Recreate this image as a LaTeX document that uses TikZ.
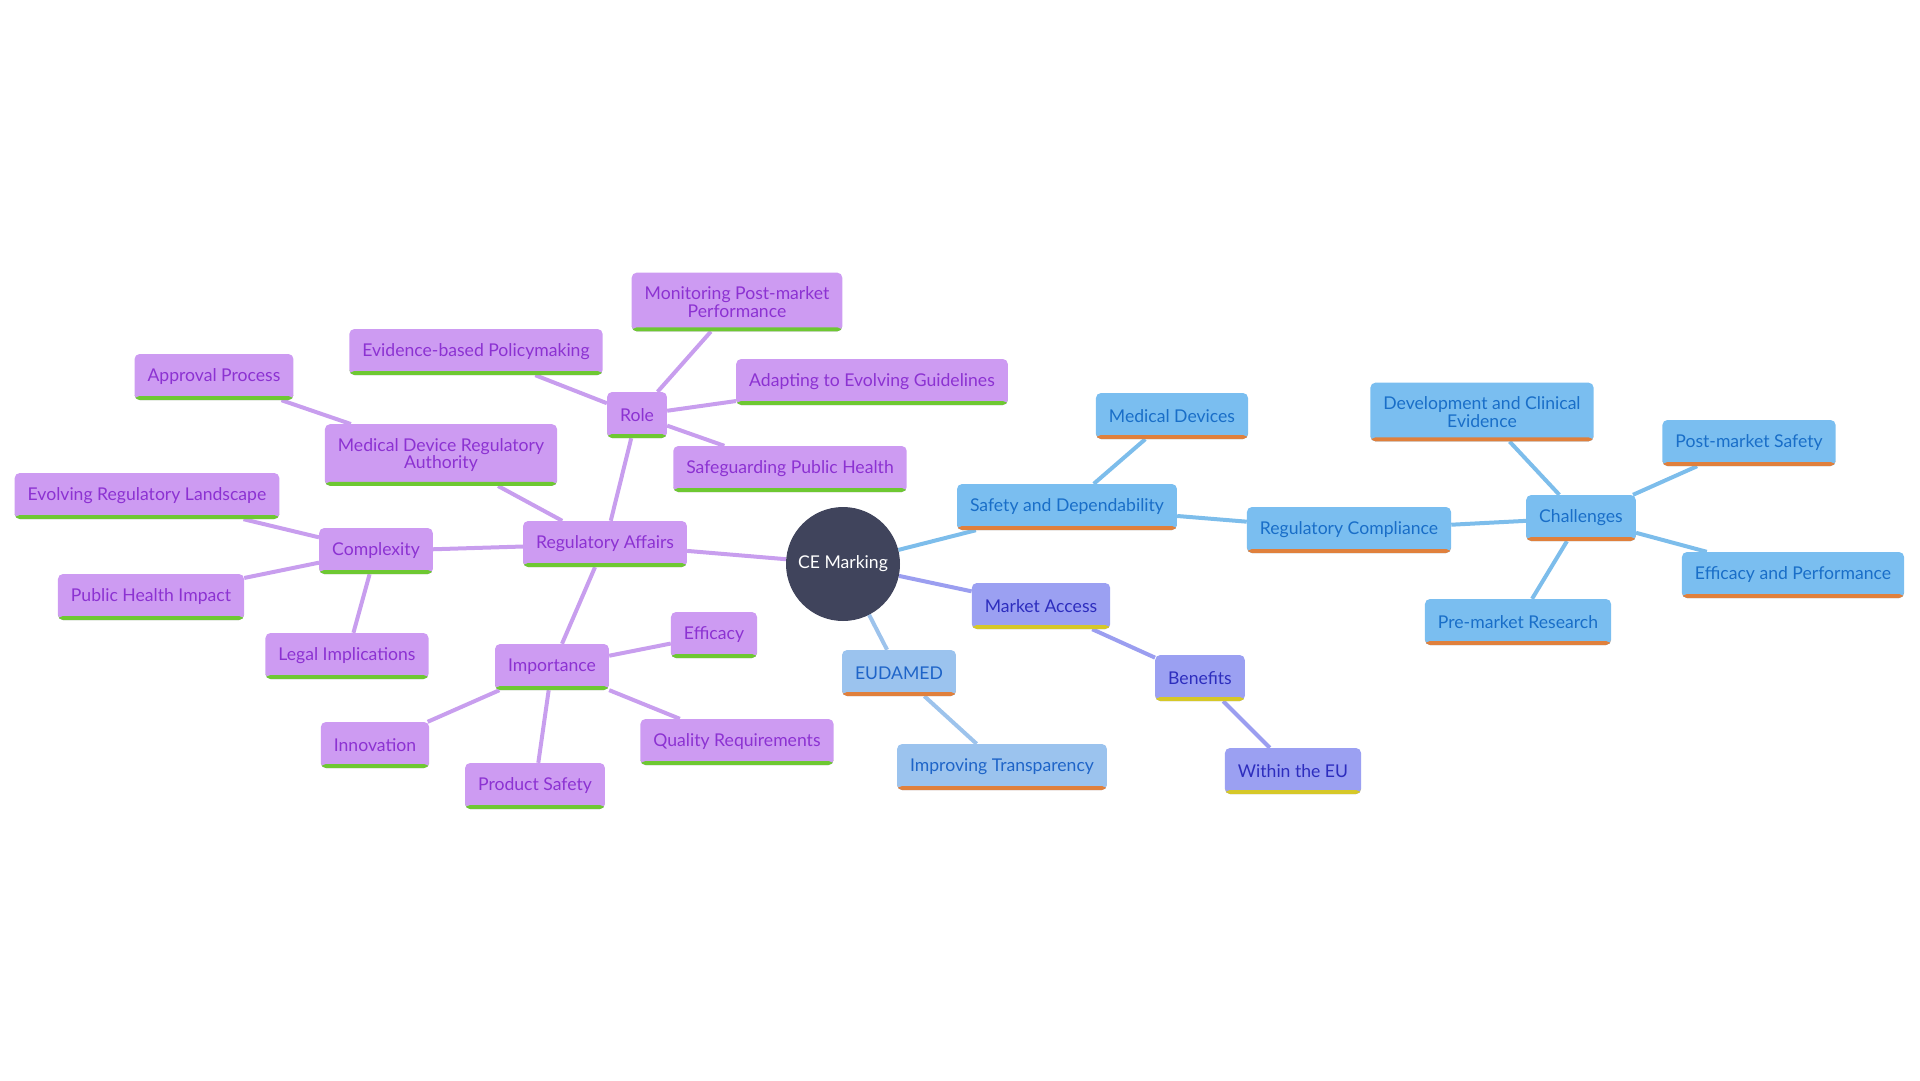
\documentclass[tikz,border=0pt]{standalone}
\usepackage{fontspec}
\setmainfont{Lato}
\usepackage{tikz}
\usetikzlibrary{backgrounds}

\definecolor{purplefill}{RGB}{205,155,242}
\definecolor{purpletext}{RGB}{140,50,210}
\definecolor{purpleline}{RGB}{200,158,238}
\definecolor{greenbar}{RGB}{110,200,50}
\definecolor{bluefill}{RGB}{122,190,240}
\definecolor{bluetext}{RGB}{25,110,200}
\definecolor{blueline}{RGB}{125,189,235}
\definecolor{orangebar}{RGB}{224,128,60}
\definecolor{eudfill}{RGB}{155,195,238}
\definecolor{eudtext}{RGB}{30,100,200}
\definecolor{eudline}{RGB}{157,195,236}
\definecolor{mafill}{RGB}{155,160,242}
\definecolor{matext}{RGB}{45,45,190}
\definecolor{maline}{RGB}{155,158,240}
\definecolor{yellowbar}{RGB}{214,200,40}
\definecolor{cefill}{RGB}{64,68,92}

\tikzset{
	mmbox/.style={rectangle, rounded corners=5pt, inner xsep=13pt, inner ysep=14pt,
		minimum height=46pt, align=center, font=\fontsize{17.6}{17.6}\selectfont,
		path picture={\fill[#1] (path picture bounding box.south west) rectangle ([yshift=4pt]path picture bounding box.south east);}},
	purplebox/.style={mmbox=greenbar, fill=purplefill, text=purpletext},
	bluebox/.style={mmbox=orangebar, fill=bluefill, text=bluetext},
	eudbox/.style={mmbox=orangebar, fill=eudfill, text=eudtext},
	mabox/.style={mmbox=yellowbar, fill=mafill, text=matext},
	link/.style={line width=4pt}
}

\begin{document}
\begin{tikzpicture}[x=1pt, y=-1pt]
	\useasboundingbox (0,0) rectangle (1920,1080);
	
	\node[circle, fill=cefill, text=white, minimum size=114pt, inner sep=0pt, font=\fontsize{17.6}{17.6}\selectfont] (ce) at (843,564) {CE Marking};
	
	% regulatory affairs branch
	\node[purplebox] (ra) at (605,544) {Regulatory Affairs};
	\node[purplebox] (role) at (637,415) {Role};
	\node[purplebox] (mon) at (737,302) {Monitoring Post-market\\Performance};
	\node[purplebox] (evid) at (476,352) {Evidence-based Policymaking};
	\node[purplebox] (adapt) at (872,382) {Adapting to Evolving Guidelines};
	\node[purplebox] (safe) at (790,469) {Safeguarding Public Health};
	\node[purplebox] (mdra) at (441,455) {Medical Device Regulatory\\Authority};
	\node[purplebox] (appr) at (214,377) {Approval Process};
	\node[purplebox] (cplx) at (376,551) {Complexity};
	\node[purplebox] (evol) at (147,496) {Evolving Regulatory Landscape};
	\node[purplebox] (phi) at (151,597) {Public Health Impact};
	\node[purplebox] (legal) at (347,656) {Legal Implications};
	\node[purplebox] (imp) at (552,667) {Importance};
	\node[purplebox] (effic) at (714,635) {Efficacy};
	\node[purplebox] (qual) at (737,742) {Quality Requirements};
	\node[purplebox] (innov) at (375,745) {Innovation};
	\node[purplebox] (prod) at (535,786) {Product Safety};
	
	% safety branch
	\node[bluebox] (sd) at (1067,507) {Safety and Dependability};
	\node[bluebox] (md) at (1172,416) {Medical Devices};
	\node[bluebox] (rc) at (1349,530) {Regulatory Compliance};
	\node[bluebox] (chal) at (1581,518) {Challenges};
	\node[bluebox] (dev) at (1482,412) {Development and Clinical\\Evidence};
	\node[bluebox] (pms) at (1749,443) {Post-market Safety};
	\node[bluebox] (eff) at (1793,575) {Efficacy and Performance};
	\node[bluebox] (pre) at (1518,622) {Pre-market Research};
	
	\node[eudbox] (eud) at (899,673) {EUDAMED};
	\node[eudbox] (impr) at (1002,767) {Improving Transparency};
	
	\node[mabox] (ma) at (1041,606) {Market Access};
	\node[mabox] (ben) at (1200,678) {Benefits};
	\node[mabox] (eu) at (1293,771) {Within the EU};
	
	\begin{scope}[on background layer]
		\draw[link, purpleline] (ce) -- (ra);
		\foreach \a/\b in {ra/role, role/mon, role/evid, role/adapt, role/safe, ra/mdra, mdra/appr, ra/cplx, cplx/evol, cplx/phi, cplx/legal, ra/imp, imp/effic, imp/qual, imp/innov, imp/prod}
			\draw[link, purpleline] (\a) -- (\b);
		\foreach \a/\b in {ce/sd, sd/md, sd/rc, rc/chal, chal/dev, chal/pms, chal/eff, chal/pre}
			\draw[link, blueline] (\a) -- (\b);
		\draw[link, eudline] (ce) -- (eud) (eud) -- (impr);
		\draw[link, maline] (ce) -- (ma) (ma) -- (ben) (ben) -- (eu);
	\end{scope}
\end{tikzpicture}
\end{document}
